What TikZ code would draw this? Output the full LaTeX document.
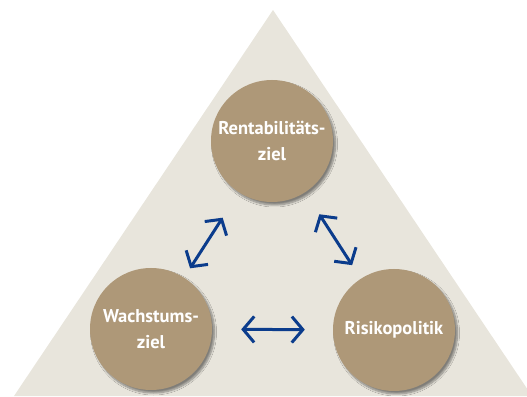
\documentclass[tikz,border=0pt]{standalone}
\usepackage{fontspec}
\setmainfont{PT Sans}
\usepackage{xcolor}
\usetikzlibrary{arrows.meta,calc,shadows.blur}
\definecolor{triback}{HTML}{E8E5DC}
\definecolor{zieltan}{HTML}{AE9878}
\definecolor{arrblue}{HTML}{0B3C8C}

\begin{document}
\begin{tikzpicture}[x=1pt,y=1pt,>={Straight Barb[length=11pt,width=26pt]},
  ziel/.style={circle,fill=zieltan,minimum size=122pt,inner sep=0pt,text=white,
    font=\bfseries\fontsize{18.5}{26}\selectfont,align=center,
    blur shadow={shadow xshift=2.5pt,shadow yshift=-3pt,shadow blur steps=8,shadow opacity=45}},
  verb/.style={<->,arrblue,line width=3pt}]
  \useasboundingbox (0,0) rectangle (527,396);
  % background triangle
  \fill[triback] (14,0) -- (273,386) -- (532,0) -- cycle;
  % goals
  \node[ziel] (rent) at (272,255) {\raisebox{-3pt}{Rentabilitäts-}\\\raisebox{-3pt}{ziel}};
  \node[ziel] (wachs) at (151,67) {\raisebox{-3pt}{Wachstums-}\\\raisebox{-3pt}{ziel}};
  \node[ziel] (risk) at (394,66) {Risikopolitik};
  % relations
  \draw[verb,shorten <=30pt,shorten >=11pt] (rent) -- (wachs);
  \draw[verb,shorten <=26pt,shorten >=16pt] (rent) -- (risk);
  \draw[verb,shorten <=29pt,shorten >=28pt] (wachs) -- (risk);
\end{tikzpicture}
\end{document}
